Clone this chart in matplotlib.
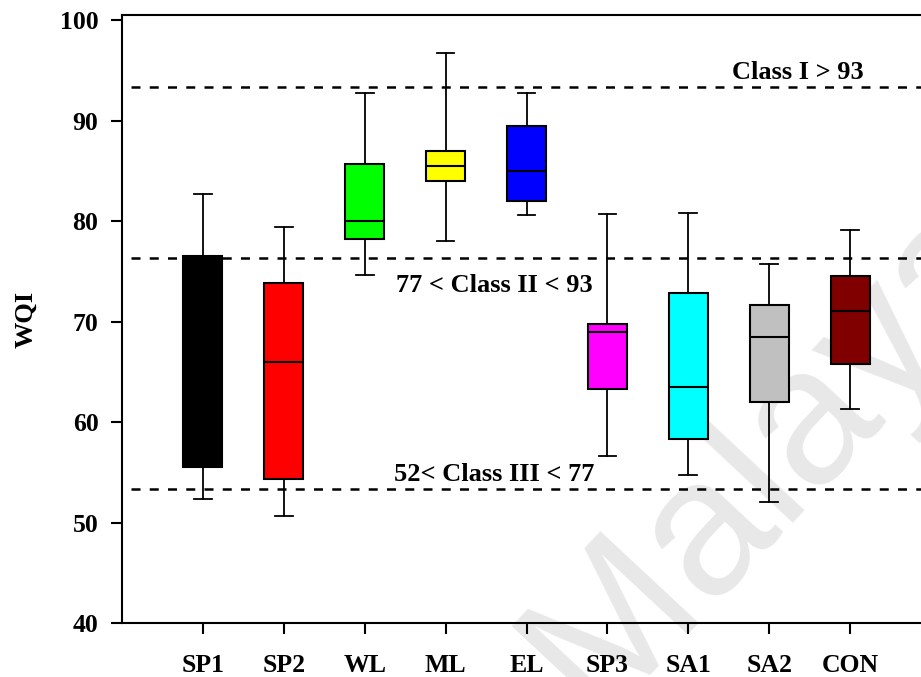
import matplotlib
matplotlib.use("Agg")
import matplotlib.pyplot as plt

plt.rcParams['font.family'] = ['Liberation Serif', 'DejaVu Serif']
plt.rcParams['font.weight'] = 'bold'

# WQI box summaries per station
sites = ['SP1', 'SP2', 'WL', 'ML', 'EL', 'SP3', 'SA1', 'SA2', 'CON']
wlo = [52.3, 50.6, 74.6, 78.0, 80.6, 56.6, 54.7, 52.0, 61.3]
q1 = [55.5, 54.3, 78.2, 84.0, 82.0, 63.3, 58.3, 62.0, 65.8]
med = [66.0, 66.0, 80.0, 85.5, 85.0, 69.0, 63.5, 68.5, 71.0]
q3 = [76.5, 73.8, 85.7, 87.0, 89.5, 69.8, 72.8, 71.6, 74.5]
whi = [82.7, 79.4, 92.7, 96.7, 92.7, 80.7, 80.8, 75.7, 79.1]
colors = ['#000000', '#ff0000', '#00ff00', '#ffff00', '#0000ff',
          '#ff00ff', '#00ffff', '#c0c0c0', '#800000']

# class limits
limits = [93.3, 76.3, 53.3]
class_labels = ['Class I > 93', '77 < Class II < 93', '52< Class III < 77']
label_x = [8.35, 4.6, 4.6]
label_y = [94.75, 73.6, 54.75]

fig = plt.figure(figsize=(9.21, 6.77), dpi=100)
ax = fig.add_axes([122 / 921, 1 - 623 / 677, (931 - 122) / 921, (623 - 15) / 677])
ax.patch.set_alpha(0)

# watermark behind everything
fig.text(0.838, 0.33, 'Malaya', fontsize=140, color='#e8e8e8', rotation=47,
         family='Liberation Sans', fontweight='normal', ha='center',
         va='center', zorder=-1)

stats = []
for i, s in enumerate(sites):
    stats.append({'label': s, 'whislo': wlo[i], 'q1': q1[i], 'med': med[i],
                  'q3': q3[i], 'whishi': whi[i], 'fliers': []})

bp = ax.bxp(stats, positions=range(1, 10), widths=0.48, patch_artist=True,
            showfliers=False,
            boxprops=dict(linewidth=1.5, edgecolor='black'),
            medianprops=dict(color='black', linewidth=1.5),
            whiskerprops=dict(color='black', linewidth=1.3),
            capprops=dict(color='black', linewidth=1.3), capwidths=0.22)
for patch, c in zip(bp['boxes'], colors):
    patch.set_facecolor(c)
for k in bp:
    for art in bp[k]:
        art.set_zorder(3)

for y in limits:
    ax.plot([0.11, 10], [y, y], color='black', linestyle=(0, (3.6, 3.7)),
            linewidth=1.8, zorder=2)
for t, x, y in zip(class_labels, label_x, label_y):
    ax.text(x, y, t, ha='center', va='center', fontsize=19, fontweight='bold',
            zorder=4)

ax.set_xlim(0, 10)
ax.set_ylim(40, 100.5)
ax.set_yticks(range(40, 101, 10))
ax.set_xticks(range(1, 10))
ax.set_xticklabels(sites)
ax.tick_params(axis='both', direction='out', length=8, width=1.5, labelsize=18.5)
ax.tick_params(axis='x', pad=14)
ax.tick_params(axis='y', pad=9)
for lbl in ax.get_xticklabels() + ax.get_yticklabels():
    lbl.set_fontweight('bold')
ax.spines['right'].set_visible(False)
for sp in ['left', 'top', 'bottom']:
    ax.spines[sp].set_linewidth(1.5)
ax.set_ylabel('WQI', fontsize=19, fontweight='bold', labelpad=16)

fig.savefig('out.png', dpi=100)
